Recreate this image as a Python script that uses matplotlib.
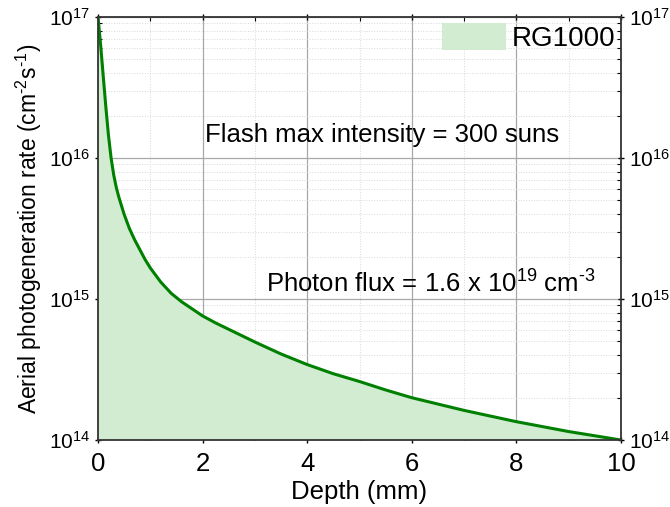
import matplotlib
matplotlib.use("Agg")
import matplotlib.pyplot as plt
import numpy as np
from matplotlib.ticker import LogLocator, MultipleLocator

plt.rcParams['font.family'] = ['Liberation Sans', 'DejaVu Sans']
plt.rcParams['mathtext.fontset'] = 'custom'
plt.rcParams['mathtext.rm'] = 'Liberation Sans'
plt.rcParams['mathtext.it'] = 'Liberation Sans'
plt.rcParams['mathtext.default'] = 'regular'

# Data
depth_mm = [0, 0.025, 0.05, 0.075, 0.1, 0.125, 0.15, 0.175, 0.2, 0.25, 0.3, 0.35,
            0.4, 0.5, 0.6, 0.7, 0.8, 0.9, 1.0, 1.2, 1.4, 1.6, 1.8, 2.0, 2.25, 2.5,
            2.75, 3, 3.5, 4, 4.5, 5, 5.5, 6, 6.5, 7, 7.5, 8, 8.5, 9, 9.5, 10]
log_rate = [17.0, 16.90, 16.80, 16.69, 16.58, 16.47, 16.36, 16.26, 16.16, 16.00,
            15.88, 15.79, 15.72, 15.60, 15.50, 15.42, 15.35, 15.28, 15.22, 15.12,
            15.04, 14.98, 14.93, 14.88, 14.83, 14.785, 14.74, 14.695, 14.61, 14.535,
            14.47, 14.415, 14.355, 14.30, 14.255, 14.21, 14.17, 14.13, 14.095,
            14.06, 14.03, 14.0]
rate = [10 ** v for v in log_rate]

series_label = "RG1000"
note1 = "Flash max intensity = 300 suns"
note2 = "Photon flux = 1.6 x 10$^{19}$ cm$^{\u2010 3}$"
xticks = [0, 2, 4, 6, 8, 10]

fig = plt.figure(figsize=(6.7, 5.07), dpi=100)
ax = fig.add_axes([0.1463, 0.1321, 0.7806, 0.8344])

ax.fill_between(depth_mm, rate, 1e14, color='#d2ecd2', edgecolor='none',
                label=series_label, zorder=1)
ax.plot(depth_mm, rate, color='#008000', lw=2.2, zorder=3,
        solid_joinstyle='round', solid_capstyle='round')

ax.set_yscale('log')
ax.set_xlim(0, 10)
ax.set_ylim(1e14, 1e17)
ax.set_xticks(xticks)
ax.xaxis.set_minor_locator(MultipleLocator(1))
ax.yaxis.set_major_locator(LogLocator(base=10, numticks=10))
ax.yaxis.set_minor_locator(LogLocator(base=10, subs=np.arange(2, 10), numticks=20))

ax.grid(which='major', color='#a8a8a8', lw=0.9, ls='-', zorder=0)
ax.grid(which='minor', color='#d8d8d8', lw=0.7, ls=':', zorder=0)
ax.set_axisbelow(True)

ax.tick_params(which='major', direction='inout', length=5, width=1.0,
               top=True, right=True, labelright=True, pad=3)
ax.tick_params(which='minor', direction='in', length=3, width=0.8,
               top=True, right=True)
ax.tick_params(axis='x', which='major', labelsize=18.5, pad=6)
ax.tick_params(axis='y', which='major', labelsize=15)
ax.yaxis.set_minor_formatter(plt.NullFormatter())
for s in ax.spines.values():
    s.set_color('#333333')
    s.set_linewidth(1.3)
    s.set_zorder(5)

ax.set_xlabel('Depth (mm)', fontsize=18.5, labelpad=3)
ax.set_ylabel('Aerial photogeneration rate (cm$^{\u2010 2}$s$^{\u2010 1}$)', fontsize=16.5, labelpad=4)

ax.text(5.43, 10 ** 16.16, note1, fontsize=18.5, ha='center', va='center', zorder=6)
ax.text(6.37, 10 ** 15.11, note2, fontsize=18.5, ha='center', va='center', zorder=6)

leg = ax.legend(loc='upper right', frameon=False, fontsize=20,
                handlelength=2.3, handleheight=1.15, handletextpad=0.2,
                borderaxespad=0.1, borderpad=0.1)

fig.savefig('out.png', dpi=100)
